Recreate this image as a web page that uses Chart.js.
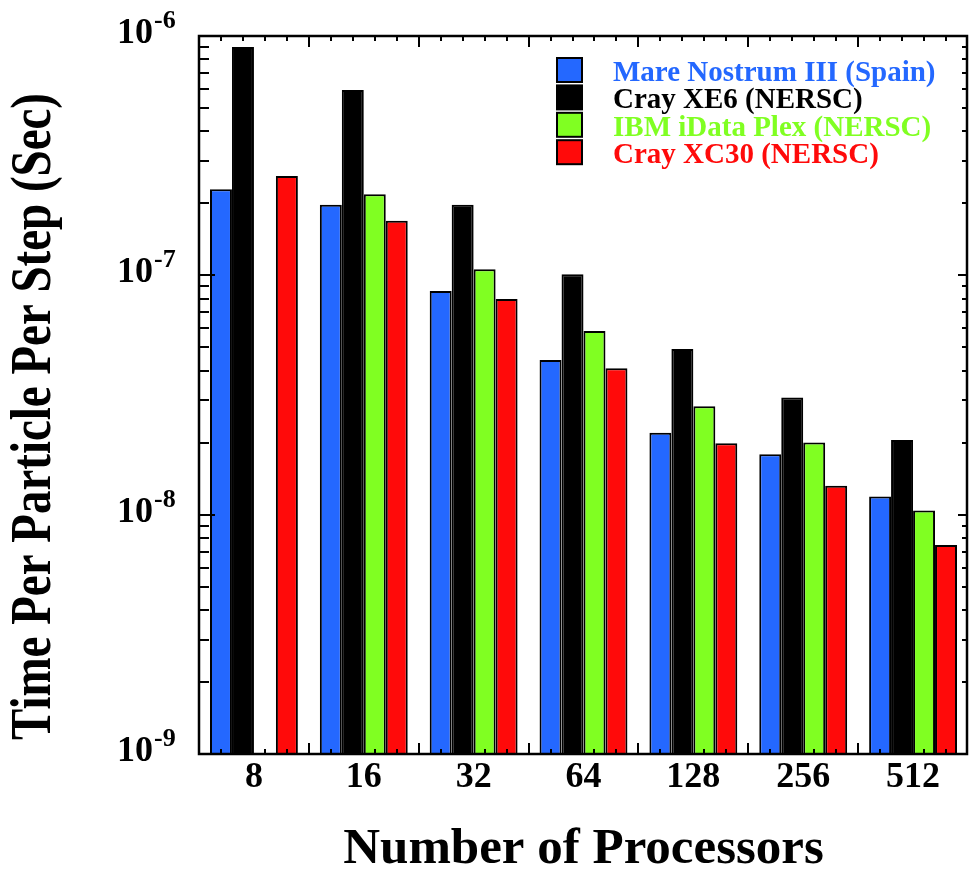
<!DOCTYPE html>
<html>
<head>
<meta charset="utf-8">
<script src="https://cdn.jsdelivr.net/npm/chart.js@4.4.1/dist/chart.umd.min.js"></script>
<style>
  html, body { margin: 0; padding: 0; background: #fff; }
  #caixa { width: 969px; height: 872px; }
</style>
</head>
<body>
<div id="caixa"><canvas id="grafico-tempo"></canvas></div>
<script>
// dados
const processadores = ['8', '16', '32', '64', '128', '256', '512'];
const mareNostrum = [2.29e-7, 1.97e-7, 8.6e-8, 4.43e-8, 2.2e-8, 1.79e-8, 1.19e-8];
const crayXE6 = [9.0e-7, 5.95e-7, 1.97e-7, 1.01e-7, 4.92e-8, 3.09e-8, 2.05e-8];
const ibmIdataPlex = [null, 2.18e-7, 1.06e-7, 5.85e-8, 2.84e-8, 2.0e-8, 1.04e-8];
const crayXC30 = [2.6e-7, 1.69e-7, 7.96e-8, 4.09e-8, 1.99e-8, 1.32e-8, 7.46e-9];
const expoentes = [-6, -7, -8, -9];

const SERIF = '"Liberation Serif", "Times New Roman", serif';

// moldura, marcas, rótulos do eixo y, título y e legenda
const extras = {
  id: 'extras',
  afterDatasetsDraw(chart) {
    const { ctx, chartArea: a, scales } = chart;
    const ys = scales.y, xs = scales.x;
    ctx.save();
    ctx.strokeStyle = '#000';
    ctx.lineWidth = 2;
    ctx.lineCap = 'butt';

    // marcas do eixo y (esquerda e direita)
    for (let e = -9; e <= -6; e++) {
      for (let m = 1; m <= 9; m++) {
        const v = m * Math.pow(10, e);
        if (v > 1.0001e-6) break;
        const y = Math.round(ys.getPixelForValue(v));
        const major = m === 1;
        ctx.beginPath();
        ctx.moveTo(a.left, y); ctx.lineTo(a.left + (major ? 16 : 10), y);
        ctx.moveTo(a.right, y); ctx.lineTo(a.right - (major ? 10 : 6), y);
        ctx.stroke();
      }
    }

    // marcas do eixo x (embaixo e em cima)
    const w = xs.getPixelForValue(1) - xs.getPixelForValue(0);
    processadores.forEach((p, i) => {
      const c = xs.getPixelForValue(i);
      const ticks = [[c - w / 2, 11]];
      for (let j = 0; j < 4; j++) ticks.push([c + (j - 1.5) * w / 5, 5]);
      ticks.forEach(([x, len]) => {
        x = Math.round(x);
        ctx.beginPath();
        ctx.moveTo(x, a.bottom); ctx.lineTo(x, a.bottom - len);
        ctx.moveTo(x, a.top); ctx.lineTo(x, a.top + len);
        ctx.stroke();
      });
    });

    // moldura
    ctx.lineWidth = 2.5;
    ctx.strokeRect(a.left, a.top, a.right - a.left - 1, a.bottom - a.top);

    // rótulos 10^n
    ctx.fillStyle = '#000';
    expoentes.forEach(e => {
      const y = ys.getPixelForValue(Math.pow(10, e));
      ctx.font = 'bold 36px ' + SERIF;
      ctx.textAlign = 'right';
      ctx.textBaseline = 'alphabetic';
      ctx.fillText('10', 153, y + 7);
      ctx.font = 'bold 26px ' + SERIF;
      ctx.textAlign = 'left';
      ctx.fillText('-' + Math.abs(e), 154, y - 8);
    });

    // título do eixo y (comprimido como no original)
    ctx.save();
    ctx.translate(50, 740);
    ctx.rotate(-Math.PI / 2);
    ctx.font = 'bold 56px ' + SERIF;
    ctx.textAlign = 'left';
    ctx.fillText('Time Per Particle Per Step (Sec)', 0, 0, 647);
    ctx.restore();

    // legenda
    chart.data.datasets.forEach((ds, i) => {
      const top = 58 + i * 27.4;
      ctx.fillStyle = ds.backgroundColor;
      ctx.fillRect(557, top, 25, 24);
      ctx.lineWidth = 2;
      ctx.strokeStyle = '#000';
      ctx.strokeRect(557, top, 25, 24);
      ctx.font = 'bold 29px ' + SERIF;
      ctx.textAlign = 'left';
      ctx.fillStyle = ds.backgroundColor;
      ctx.fillText(ds.label, 613, top + 23);
    });
    ctx.restore();
  }
};

const ctxTempo = document.getElementById('grafico-tempo').getContext('2d');

const graficoTempo = new Chart(ctxTempo, {
  type: 'bar',
  data: {
    labels: processadores,
    datasets: [
      { label: 'Mare Nostrum III (Spain)', data: mareNostrum, backgroundColor: '#2468ff' },
      { label: 'Cray XE6 (NERSC)', data: crayXE6, backgroundColor: '#000000' },
      { label: 'IBM iData Plex (NERSC)', data: ibmIdataPlex, backgroundColor: '#80ff22' },
      { label: 'Cray XC30 (NERSC)', data: crayXC30, backgroundColor: '#ff0a0a' }
    ]
  },
  options: {
    responsive: true,
    maintainAspectRatio: false,
    animation: false,
    datasets: {
      bar: {
        borderColor: '#000',
        borderWidth: 2,
        categoryPercentage: 0.8,
        barPercentage: 1.0
      }
    },
    layout: { padding: { left: 199, right: 1, top: 36, bottom: 0 } },
    plugins: {
      legend: { display: false },
      tooltip: { enabled: false }
    },
    scales: {
      x: {
        grid: { display: false, drawTicks: false },
        border: { display: false },
        ticks: {
          color: '#000',
          padding: 2,
          font: { family: SERIF, size: 36, weight: 'bold', lineHeight: 1.2 }
        },
        title: {
          display: true,
          text: 'Number of Processors',
          color: '#000',
          padding: 0,
          font: { family: SERIF, size: 51, weight: 'bold', lineHeight: 0.86 }
        },
        afterFit: s => { s.height = 118; }
      },
      y: {
        type: 'logarithmic',
        display: false,
        min: 1e-9,
        max: 1e-6
      }
    }
  },
  plugins: [extras]
});
</script>
</body>
</html>
